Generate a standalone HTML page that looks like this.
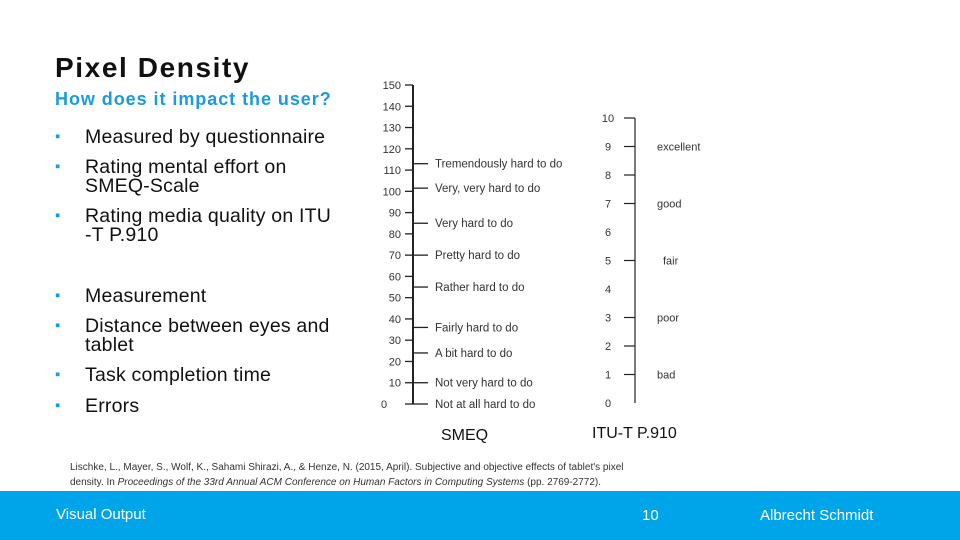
<!DOCTYPE html>
<html><head><meta charset="utf-8"><style>
body{margin:0;width:960px;height:540px;background:#fff;position:relative;overflow:hidden;font-family:"Liberation Sans",sans-serif}
.a{position:absolute;white-space:nowrap}
.b{position:absolute;left:62px;font-size:19.5px;color:#111;line-height:19px;white-space:nowrap}
.b:before{content:"▪";position:absolute;left:-7px;top:-1px;color:#1a9be0;font-size:15px}
.b span{position:absolute;left:23px;white-space:nowrap;letter-spacing:0.2px}
</style></head><body>
<div class="a" style="left:55px;top:52px;font-size:28px;font-weight:bold;color:#111;letter-spacing:1.6px">Pixel Density</div>
<div class="a" style="left:55px;top:89px;font-size:18px;font-weight:bold;color:#1a9be0;letter-spacing:0.95px">How does it impact the user?</div>
<div class="b" style="top:128px"><span>Measured by questionnaire</span></div>
<div class="b" style="top:158px"><span>Rating mental effort on<br>SMEQ-Scale</span></div>
<div class="b" style="top:207px"><span>Rating media quality on ITU<br>-T P.910</span></div>
<div class="b" style="top:287px"><span>Measurement</span></div>
<div class="b" style="top:317px"><span>Distance between eyes and<br>tablet</span></div>
<div class="b" style="top:366px"><span>Task completion time</span></div>
<div class="b" style="top:397px"><span>Errors</span></div>
<svg class="a" style="left:0;top:0" width="960" height="540" id="c"></svg>
<div class="a" style="left:441px;top:427px;font-size:16px;color:#111">SMEQ</div>
<div class="a" style="left:592px;top:425px;font-size:16px;color:#111">ITU-T P.910</div>
<div class="a" style="left:70px;top:460px;font-size:10px;line-height:15px;color:#333">Lischke, L., Mayer, S., Wolf, K., Sahami Shirazi, A., &amp; Henze, N. (2015, April). Subjective and objective effects of tablet's pixel<br>density. In <i>Proceedings of the 33rd Annual ACM Conference on Human Factors in Computing Systems</i> (pp. 2769-2772).</div>
<div class="a" style="left:0;top:491px;width:960px;height:49px;background:#00a4e9"></div>
<div class="a" style="left:56px;top:506px;font-size:15px;color:#fff">Visual Output</div>
<div class="a" style="left:642px;top:507px;font-size:15px;color:#fff">10</div>
<div class="a" style="left:760px;top:507px;font-size:15px;color:#fff">Albrecht Schmidt</div>
<script>
const smeqTicks=[0,10,20,30,40,50,60,70,80,90,100,110,120,130,140,150];
const smeqLabels=["Not at all hard to do","Not very hard to do","A bit hard to do","Fairly hard to do","Rather hard to do","Pretty hard to do","Very hard to do","Very, very hard to do","Tremendously hard to do"];
const smeqValues=[0,10,24,36,55,70,85,101.5,113];
const ituTicks=[10,9,8,7,5,3,2,1];
const ituNumbers=[0,1,2,3,4,5,6,7,8,9,10];
const ituLabels=["excellent","good","fair","poor","bad"];
const ituLabelValues=[9,7,5,3,1];
const svg=document.getElementById('c');const NS='http://www.w3.org/2000/svg';
const ys=v=>404-v*(404-85)/150, yi=v=>403-v*(403-118)/10;
function el(t,a,txt){const e=document.createElementNS(NS,t);for(const k in a)e.setAttribute(k,a[k]);if(txt!==undefined)e.textContent=txt;svg.appendChild(e);return e;}
let e=el('line',{x1:413,x2:413,y1:ys(150),y2:ys(0),stroke:'#222','stroke-width':2});

smeqTicks.forEach(v=>{let t=el('line',{x1:405,x2:413,y1:ys(v),y2:ys(v),stroke:'#222','stroke-width':1.3});

let l=el('text',{x:v===0?381:401,y:ys(v)+4,'font-size':11,fill:'#333','text-anchor':v===0?'start':'end','font-family':'Liberation Sans'},v);
});
smeqValues.forEach((v,i)=>{let t=el('line',{x1:413,x2:428,y1:ys(v),y2:ys(v),stroke:'#222','stroke-width':1.3});

let l=el('text',{x:435,y:ys(v)+4,'font-size':11.5,fill:'#333','font-family':'Liberation Sans'},smeqLabels[i]);
});
e=el('line',{x1:635,x2:635,y1:yi(10),y2:yi(0),stroke:'#222','stroke-width':1.2});

ituTicks.forEach(v=>{let t=el('line',{x1:624,x2:635,y1:yi(v),y2:yi(v),stroke:'#222','stroke-width':1.2});
});
ituNumbers.forEach(v=>{let l=el('text',{x:608,y:yi(v)+4,'font-size':11,fill:'#333','text-anchor':'middle','font-family':'Liberation Sans'},v);
});
ituLabelValues.forEach((v,i)=>{let l=el('text',{x:ituLabels[i]==='fair'?663:657,y:yi(v)+4,'font-size':11,fill:'#333','font-family':'Liberation Sans'},ituLabels[i]);
});
</script>
</body></html>
